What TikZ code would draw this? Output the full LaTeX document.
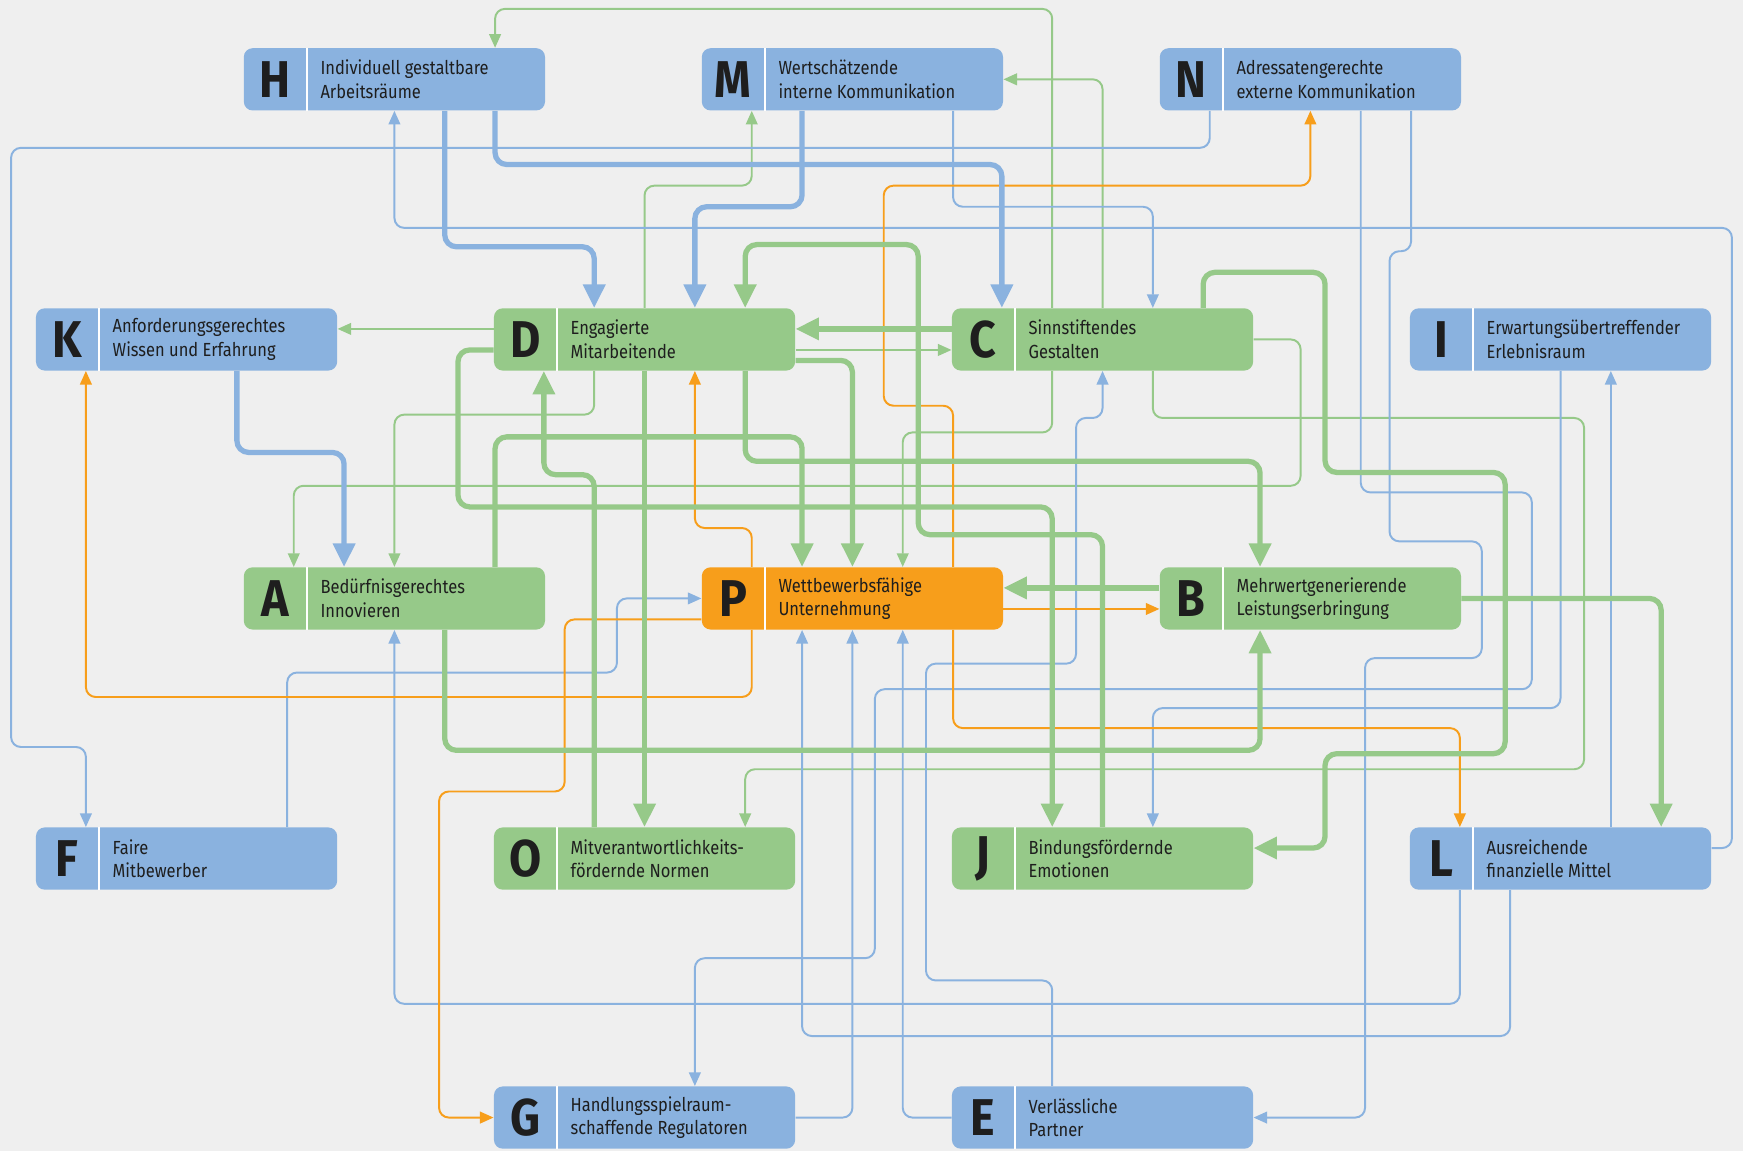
\documentclass[tikz,border=0pt]{standalone}
\usepackage{fontspec}
\setmainfont{Fira Sans}[FakeStretch=0.87]
\newfontfamily\kennfamily{Fira Sans}[FakeStretch=0.9]
\usetikzlibrary{calc,arrows.meta}
\definecolor{blau}{RGB}{138,178,223}
\definecolor{gruen}{RGB}{150,201,137}
\definecolor{orng}{RGB}{247,158,27}
\definecolor{hgrund}{RGB}{239,239,239}
\definecolor{schrift}{RGB}{30,30,30}
\newcommand{\kennfont}{\kennfamily\bfseries\fontsize{26.5}{26.5}\selectfont}
\newcommand{\beschrfont}{\fontsize{9.7}{12}\selectfont}
\tikzset{
  feld/.style={rounded corners=4.5pt, minimum width=5.42cm, minimum height=1.12cm, inner sep=0pt, anchor=north west},
  kenn/.style={font=\kennfont, text=schrift, inner sep=0pt},
  beschr/.style={font=\beschrfont, text=schrift, align=left, anchor=west, inner sep=0pt},
  pfeil/.style={rounded corners=5pt, line width=1pt, -{Triangle[length=7pt,width=6pt]}},
  pfeildick/.style={rounded corners=6pt, line width=2.7pt, -{Triangle[length=12pt,width=11pt]}}
}
% Feld: Name, Position, Kennbuchstabe, Text, Farbe
\newcommand{\feld}[5]{%
  \node[feld, fill=#5] (#1) at (#2) {};
  \draw[white, line width=1pt] ($(#1.north west)+(57,0)$) -- ($(#1.south west)+(57,0)$);
  \node[kenn] at ($(#1.west)+(28.5,0)$) {#3};
  \node[beschr] at ($(#1.west)+(69,0)$) {#4};
  \foreach \k in {1,...,5} {
    \coordinate (#1-n\k) at ($(#1.north west)!\k/6!(#1.north east)$);
    \coordinate (#1-s\k) at ($(#1.south west)!\k/6!(#1.south east)$);
  }
  \foreach \k/\fr in {1/0.333,2/0.5,3/0.667,4/0.833} {
    \coordinate (#1-w\k) at ($(#1.north west)!\fr!(#1.south west)$);
    \coordinate (#1-e\k) at ($(#1.north east)!\fr!(#1.south east)$);
  }
}

\begin{document}
\begin{tikzpicture}[x=0.02cm, y=-0.02cm]
    \fill[hgrund] (0,0) rectangle (1568,1035);
    \feld{H}{219,43}{H}{Individuell gestaltbare\\Arbeitsräume}{blau}
    \feld{M}{631,43}{M}{Wertschätzende\\interne Kommunikation}{blau}
    \feld{N}{1043,43}{N}{Adressatengerechte\\externe Kommunikation}{blau}
    \feld{K}{32,277}{K}{Anforderungsgerechtes\\Wissen und Erfahrung}{blau}
    \feld{D}{444,277}{D}{Engagierte\\Mitarbeitende}{gruen}
    \feld{C}{856,277}{C}{Sinnstiftendes\\Gestalten}{gruen}
    \feld{I}{1268,277}{I}{Erwartungsübertreffender\\Erlebnisraum}{blau}
    \feld{A}{219,510}{A}{Bedürfnisgerechtes\\Innovieren}{gruen}
    \feld{P}{631,510}{P}{Wettbewerbsfähige\\Unternehmung}{orng}
    \feld{B}{1043,510}{B}{Mehrwertgenerierende\\Leistungserbringung}{gruen}
    \feld{F}{32,744}{F}{Faire\\Mitbewerber}{blau}
    \feld{O}{444,744}{O}{Mitverantwortlichkeits-\\fördernde Normen}{gruen}
    \feld{J}{856,744}{J}{Bindungsfördernde\\Emotionen}{gruen}
    \feld{L}{1268,744}{L}{Ausreichende\\finanzielle Mittel}{blau}
    \feld{G}{444,977}{G}{Handlungsspielraum-\\schaffende Regulatoren}{blau}
    \feld{E}{856,977}{E}{Verlässliche\\Partner}{blau}

    % duenne Verbindungen
    \draw[pfeil, gruen] (C-n2) -- (C-n2 |- 0,8) -| (H-n5);
    \draw[pfeil, gruen] (D-n3) -- (D-n3 |- 0,167) -| (M-s1);
    \draw[pfeil, gruen] (C-n3) |- (M-e2);
    \draw[pfeil, gruen] (D-w1) -- (K-e1);
    \draw[pfeil, gruen] (D-e3) -- (C-w3);
    \draw[pfeil, gruen] (D-s2) -- (D-s2 |- 0,373) -| (A-n3);
    \draw[pfeil, gruen] (C-e2) -| (1170,437) -| (A-n1);
    \draw[pfeil, gruen] (C-s4) -- (C-s4 |- 0,376) -| (1425,692) -| (O-n5);
    \draw[pfeil, gruen] (C-s2) -- (C-s2 |- 0,389) -| (P-n4);
    \draw[pfeil, blau] (N-s1) |- (10,133) -- (10,672) -| (F-n1);
    \draw[pfeil, blau] (L-e1) -| (1558,205) -| (H-s3);
    \draw[pfeil, blau] (M-s5) -- (M-s5 |- 0,186) -| (C-n4);
    \draw[pfeil, blau] (N-s4) -- (N-s4 |- 0,443) -| (1378,620) -| (787,862) -| (G-n4);
    \draw[pfeil, blau] (N-s5) -- (N-s5 |- 0,226) -| (1250,487) -| (1333,592) -| (1228,700) |- (E-e2);
    \draw[pfeil, blau] (I-s3) -- (I-s3 |- 0,637) -| (J-n4);
    \draw[pfeil, blau] (L-n4) -- (I-s4);
    \draw[pfeil, blau] (L-s1) -- (L-s1 |- 0,903) -| (A-s3);
    \draw[pfeil, blau] (L-s2) -- (L-s2 |- 0,932) -| (P-s2);
    \draw[pfeil, blau] (G-e2) -| (P-s3);
    \draw[pfeil, blau] (E-w2) -| (P-s4);
    \draw[pfeil, blau] (E-n2) -- (E-n2 |- 0,882) -| (833,597) -| (968,376) -| (C-s3);
    \draw[pfeil, blau] (F-n5) -- (F-n5 |- 0,605) -| (555,560) |- (P-w2);
    \draw[pfeil, orng] (P-n5) -- (P-n5 |- 0,365) -| (795,167) -| (N-s3);
    \draw[pfeil, orng] (P-e3) -- (B-w3);
    \draw[pfeil, orng] (P-s5) -- (P-s5 |- 0,655) -| (L-n1);
    \draw[pfeil, orng] (P-w4) -| (508,712) -| (395,900) |- (G-w2);
    \draw[pfeil, orng] (P-n1) -- (P-n1 |- 0,475) -| (D-s4);
    \draw[pfeil, orng] (P-s1) -- (P-s1 |- 0,627) -| (K-s1);

    % dicke Verbindungen
    \draw[pfeildick, blau] (H-s4) -- (H-s4 |- 0,222) -| (D-n2);
    \draw[pfeildick, blau] (H-s5) -- (H-s5 |- 0,148) -| (C-n1);
    \draw[pfeildick, blau] (M-s2) -- (M-s2 |- 0,186) -| (D-n4);
    \draw[pfeildick, blau] (K-s4) -- (K-s4 |- 0,407) -| (A-n2);
    \draw[pfeildick, gruen] (J-n3) -- (J-n3 |- 0,481) -| (826,220) -| (D-n5);
    \draw[pfeildick, gruen] (D-w3) -| (412,456) -| (J-n2);
    \draw[pfeildick, gruen] (A-n5) -- (A-n5 |- 0,393) -| (P-n2);
    \draw[pfeildick, gruen] (D-s5) -- (D-s5 |- 0,415) -| (B-n2);
    \draw[pfeildick, gruen] (D-e4) -| (P-n3);
    \draw[pfeildick, gruen] (D-s3) -- (O-n3);
    \draw[pfeildick, gruen] (O-n2) -- (O-n2 |- 0,427) -| (D-s1);
    \draw[pfeildick, gruen] (A-s4) -- (A-s4 |- 0,675) -| (B-s2);
    \draw[pfeildick, gruen] (C-n5) -- (C-n5 |- 0,245) -| (1192,425) -| (1354,678) -- (1192,678) |- (J-e1);
    \draw[pfeildick, gruen] (B-e2) -| (L-n5);
    \draw[pfeildick, gruen] (C-w1) -- (D-e1);
    \draw[pfeildick, gruen] (B-w1) -- (P-e1);
\end{tikzpicture}
\end{document}
